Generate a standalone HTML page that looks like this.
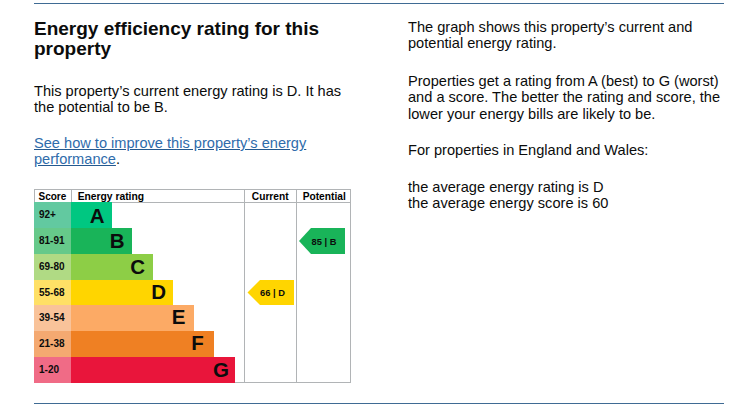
<!DOCTYPE html>
<html><head><meta charset="utf-8">
<style>
*{margin:0;padding:0;box-sizing:border-box}
html,body{width:733px;height:405px;background:#fff;overflow:hidden}
body{font-family:"Liberation Sans",sans-serif;color:#0b0c0c;position:relative}
.hr{position:absolute;left:34px;width:690px;height:1px;background:#3f6b94}
.t{position:absolute;white-space:nowrap;font-size:14.6px;line-height:16.3px}
h2{position:absolute;left:34px;top:18.5px;font-size:19px;line-height:20px;font-weight:bold;white-space:nowrap}
a{color:#2f6cab;text-decoration:underline;text-decoration-color:#24598f}
.chart{position:absolute;left:34px;top:189px;width:317px;height:195px}
.cell{position:absolute;font-weight:bold}
</style></head><body>
<div class="hr" style="top:3px"></div>
<div class="hr" style="top:403px"></div>
<h2>Energy efficiency rating for this<br>property</h2>
<div class="t" style="left:34px;top:82.5px">This property’s current energy rating is D. It has<br>the potential to be B.</div>
<div class="t" style="left:34px;top:135px"><a>See how to improve this property’s energy<br>performance</a>.</div>

<div class="t" style="left:408px;top:19px">The graph shows this property’s current and<br>potential energy rating.</div>
<div class="t" style="left:408px;top:73px">Properties get a rating from A (best) to G (worst)<br>and a score. The better the rating and score, the<br>lower your energy bills are likely to be.</div>
<div class="t" style="left:408px;top:142px">For properties in England and Wales:</div>
<div class="t" style="left:408px;top:179px">the average energy rating is D<br>the average energy score is 60</div>

<svg style="position:absolute;left:0;top:0" width="733" height="405" font-family="Liberation Sans" font-weight="bold">
  <!-- grid -->
  <rect x="34.5" y="189.5" width="316" height="193" fill="none" stroke="#b1b4b6" stroke-width="1"/>
  <line x1="34" y1="202.5" x2="351" y2="202.5" stroke="#b1b4b6"/>
  <line x1="71.5" y1="189" x2="71.5" y2="202" stroke="#b1b4b6"/>
  <line x1="244.5" y1="189" x2="244.5" y2="383" stroke="#b1b4b6"/>
  <line x1="296.5" y1="189" x2="296.5" y2="383" stroke="#b1b4b6"/>
  <text x="38.5" y="200" font-size="10">Score</text>
  <text x="77.7" y="200" font-size="10.3">Energy rating</text>
  <text x="251.8" y="200" font-size="10.2">Current</text>
  <text x="302.7" y="200" font-size="10.2">Potential</text>
  <!-- bands -->
  <rect x="34" y="202" width="37" height="26" fill="#62c9a0"/><rect x="71" y="202" width="41" height="26" fill="#00c781"/>
  <rect x="34" y="228" width="37" height="26" fill="#66c98a"/><rect x="71" y="228" width="61" height="26" fill="#19b459"/>
  <rect x="34" y="254" width="37" height="26" fill="#b0da84"/><rect x="71" y="254" width="82" height="26" fill="#8dce46"/>
  <rect x="34" y="280" width="37" height="25" fill="#ffe066"/><rect x="71" y="280" width="102" height="25" fill="#ffd500"/>
  <rect x="34" y="305" width="37" height="26" fill="#f9c39a"/><rect x="71" y="305" width="123" height="26" fill="#fcaa65"/>
  <rect x="34" y="331" width="37" height="26" fill="#f4a971"/><rect x="71" y="331" width="143" height="26" fill="#ef8023"/>
  <rect x="34" y="357" width="37" height="26" fill="#f06b86"/><rect x="71" y="357" width="164" height="26" fill="#e9153b"/>
  <g font-size="10" fill="#0b0c0c">
    <text x="39" y="218">92+</text>
    <text x="39" y="244">81-91</text>
    <text x="39" y="270">69-80</text>
    <text x="39" y="296">55-68</text>
    <text x="39" y="321">39-54</text>
    <text x="39" y="347">21-38</text>
    <text x="39" y="373">1-20</text>
  </g>
  <g font-size="20.5" fill="#0b0c0c" text-anchor="end">
    <text x="104.5" y="222.5">A</text>
    <text x="124.5" y="248">B</text>
    <text x="145" y="273.5">C</text>
    <text x="166" y="299">D</text>
    <text x="185.5" y="324">E</text>
    <text x="203.8" y="350">F</text>
    <text x="229" y="376.5">G</text>
  </g>
  <polygon points="247.5,292.5 260,280 294,280 294,305 260,305" fill="#ffd500"/>
  <text x="272.5" y="296" font-size="9.3" text-anchor="middle" fill="#0b0c0c">66 | D</text>
  <polygon points="299,241 311,228 345,228 345,254 311,254" fill="#19b459"/>
  <text x="324" y="244.5" font-size="9.3" text-anchor="middle" fill="#0b0c0c">85 | B</text>
</svg>
</body></html>
